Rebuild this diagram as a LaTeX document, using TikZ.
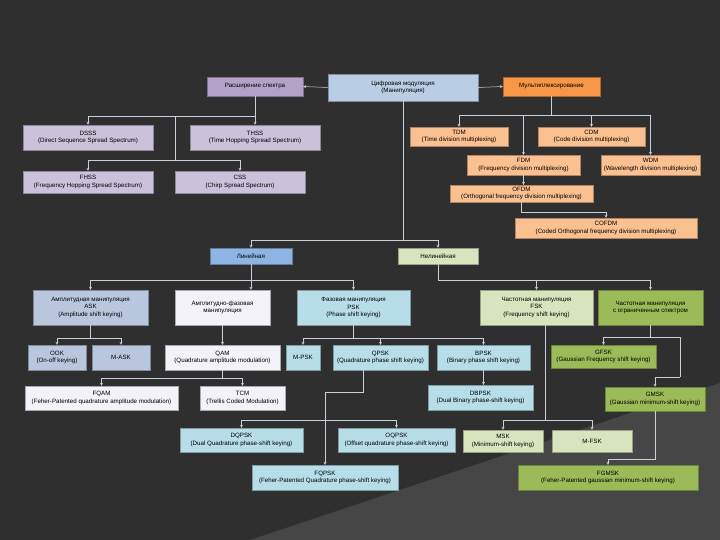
\documentclass[tikz,border=0pt]{standalone}
\usepackage{fontspec}
\setmainfont{Liberation Sans}
\usetikzlibrary{arrows.meta}
\definecolor{bgdark}{HTML}{2F2F2F}
\definecolor{bglight}{HTML}{464646}
\definecolor{lineclr}{HTML}{C8D0DC}
\definecolor{digclr}{HTML}{B9CDE5}
\definecolor{sprclr}{HTML}{B3A2C7}
\definecolor{muxclr}{HTML}{F79646}
\definecolor{sprsub}{HTML}{CCC1DA}
\definecolor{muxsub}{HTML}{FAC090}
\definecolor{linclr}{HTML}{8EB4E3}
\definecolor{nlinclr}{HTML}{D7E4BD}
\definecolor{askclr}{HTML}{B9C7DE}
\definecolor{apmclr}{HTML}{F2F2F8}
\definecolor{pskclr}{HTML}{B7DDE8}
\definecolor{fskclr}{HTML}{D7E4BD}
\definecolor{gfskclr}{HTML}{9BBB59}

\begin{document}
\begin{tikzpicture}[x=1pt,y=-1pt,
    cell/.style={draw=#1!70!black, fill=#1, line width=0.4pt, inner sep=0.5pt,
      align=center, text=black, font=\fontsize{6.2}{7.3}\selectfont},
    conn/.style={draw=lineclr, line width=0.5pt, -{Stealth[open,length=3pt,width=3pt]}},
    wire/.style={draw=lineclr, line width=0.5pt}]
        % Background
        \useasboundingbox (0,0) rectangle (720,540);
        \fill[bgdark] (0,0) rectangle (720,540);
        \fill[bglight] (250,540) -- (720,383) -- (720,540) -- cycle;

        % Top row
        \node[cell=digclr, minimum width=150pt, minimum height=27pt] (dig) at (403,87.5) {Цифровая модуляция\\(Манипуляция)};
        \node[cell=sprclr, minimum width=96pt, minimum height=19pt] (spread) at (255,86.5) {Расширение спектра};
        \node[cell=muxclr, minimum width=97pt, minimum height=19pt] (mux) at (551.5,86.5) {Мультиплексирование};

        % Spread spectrum
        \node[cell=sprsub, minimum width=130pt, minimum height=25pt] (dsss) at (88,137.5) {DSSS\\(Direct Sequence Spread Spectrum)};
        \node[cell=sprsub, minimum width=130pt, minimum height=25pt] (thss) at (255,137.5) {THSS\\(Time Hopping Spread Spectrum)};
        \node[cell=sprsub, minimum width=130pt, minimum height=22pt] (fhss) at (88,182) {FHSS\\(Frequency Hopping Spread Spectrum)};
        \node[cell=sprsub, minimum width=130pt, minimum height=22pt] (css) at (240,182) {CSS\\(Chirp Spread Spectrum)};

        % Multiplexing
        \node[cell=muxsub, minimum width=98pt, minimum height=19pt] (tdm) at (459,136.5) {TDM\\(Time division multiplexing)};
        \node[cell=muxsub, minimum width=107pt, minimum height=19pt] (cdm) at (591.5,136.5) {CDM\\(Code division multiplexing)};
        \node[cell=muxsub, minimum width=113pt, minimum height=20pt] (fdm) at (523.5,165) {FDM\\(Frequency division multiplexing)};
        \node[cell=muxsub, minimum width=99pt, minimum height=20pt] (wdm) at (650.5,165) {WDM\\(Wavelength division multiplexing)};
        \node[cell=muxsub, minimum width=143pt, minimum height=17pt] (ofdm) at (521.5,193.5) {OFDM\\(Orthogonal frequency division multiplexing)};
        \node[cell=muxsub, minimum width=182pt, minimum height=20pt] (cofdm) at (606,228) {COFDM\\(Coded Orthogonal frequency division multiplexing)};

        % Linear / nonlinear
        \node[cell=linclr, minimum width=82pt, minimum height=16pt] (lin) at (251,256) {Линейная};
        \node[cell=nlinclr, minimum width=80pt, minimum height=16pt] (nonlin) at (438,256) {Нелинейная};

        % Keying families
        \node[cell=askclr, minimum width=115pt, minimum height=35pt] (ask) at (90.5,307.5) {Амплитудная манипуляция\\ASK\\(Amplitude shift keying)};
        \node[cell=apmclr, minimum width=95pt, minimum height=35pt] (apm) at (222.5,307.5) {Амплитудно-фазовая\\манипуляция};
        \node[cell=pskclr, minimum width=113pt, minimum height=35pt] (psk) at (353.5,307.5) {Фазовая манипуляция\\PSK\\(Phase shift keying)};
        \node[cell=fskclr, minimum width=113pt, minimum height=35pt] (fsk) at (536.5,307.5) {Частотная манипуляция\\FSK\\(Frequency shift keying)};
        \node[cell=gfskclr, minimum width=105pt, minimum height=35pt] (fskl) at (650.5,307.5) {Частотная манипуляция\\с ограниченным спектром};

        % Row of methods
        \node[cell=askclr, minimum width=58pt, minimum height=25pt] (ook) at (57,357.5) {OOK\\(On-off keying)};
        \node[cell=askclr, minimum width=58pt, minimum height=25pt] (mask) at (121,357.5) {M-ASK};
        \node[cell=apmclr, minimum width=115pt, minimum height=25pt] (qam) at (222.5,357.5) {QAM\\(Quadrature amplitude modulation)};
        \node[cell=pskclr, minimum width=34pt, minimum height=25pt] (mpsk) at (303,357.5) {M-PSK};
        \node[cell=pskclr, minimum width=95pt, minimum height=25pt] (qpsk) at (380.5,357.5) {QPSK\\(Quadrature phase shift keying)};
        \node[cell=pskclr, minimum width=93pt, minimum height=25pt] (bpsk) at (483.5,357.5) {BPSK\\(Binary phase shift keying)};
        \node[cell=gfskclr, minimum width=105pt, minimum height=23pt] (gfsk) at (603.5,356.5) {GFSK\\(Gaussian Frequency shift keying)};

        \node[cell=apmclr, minimum width=153pt, minimum height=24pt] (fqam) at (101.5,398) {FQAM\\(Feher-Patented quadrature amplitude modulation)};
        \node[cell=apmclr, minimum width=85pt, minimum height=24pt] (tcm) at (242.5,398) {TCM\\(Trellis Coded Modulation)};
        \node[cell=pskclr, minimum width=105pt, minimum height=25pt] (dbpsk) at (480.5,397.5) {DBPSK\\(Dual Binary phase-shift keying)};
        \node[cell=gfskclr, minimum width=100pt, minimum height=24pt] (gmsk) at (655,399) {GMSK\\(Gaussian minimum-shift keying)};

        \node[cell=pskclr, minimum width=123pt, minimum height=24pt] (dqpsk) at (241.5,440) {DQPSK\\(Dual Quadrature phase-shift keying)};
        \node[cell=pskclr, minimum width=117pt, minimum height=24pt] (oqpsk) at (396.5,440) {OQPSK\\(Offset quadrature phase-shift keying)};
        \node[cell=fskclr, minimum width=80pt, minimum height=22pt] (msk) at (503,441) {MSK\\(Minimum-shift keying)};
        \node[cell=fskclr, minimum width=80pt, minimum height=22pt] (mfsk) at (592,441) {M-FSK};

        \node[cell=pskclr, minimum width=146pt, minimum height=25pt] (fqpsk) at (325,477.5) {FQPSK\\(Feher-Patented Quadrature phase-shift keying)};
        \node[cell=gfskclr, minimum width=180pt, minimum height=25pt] (fgmsk) at (608,477.5) {FGMSK\\(Feher-Patented gaussian minimum-shift keying)};

        % Top connectors
        \draw[conn] (dig.west) -- (spread.east);
        \draw[conn] (dig.east) -- (mux.west);

        % Spread spectrum connectors
        \coordinate (sj) at (255,116);
        \coordinate (sk) at (175,160);
        \draw[conn] (spread.south) -- (thss.north);
        \draw[conn] (sj) -| (dsss.north);
        \draw[wire] (sj -| sk) -- (sk);
        \draw[conn] (sk) -| (fhss.north);
        \draw[conn] (sk) -| (css.north);

        % Multiplexing connectors
        \coordinate (mj) at (551.5,115);
        \draw[wire] (mux.south) -- (mj);
        \draw[wire] (mj -| tdm.north) -- (mj -| wdm.north);
        \draw[conn] (mj -| tdm.north) -- (tdm.north);
        \draw[conn] (mj -| cdm.north) -- (cdm.north);
        \draw[conn] (mj -| fdm.north) -- (fdm.north);
        \draw[conn] (mj -| wdm.north) -- (wdm.north);
        \draw[conn] (fdm.south) -- (fdm.south |- ofdm.north);
        \draw[conn] (ofdm.south) -- ++(0,10) -| (cofdm.north);

        % Linear / nonlinear connectors
        \coordinate (dj) at (403,240);
        \draw[wire] (dig.south) -- (dj);
        \draw[conn] (dj) -| (lin.north);
        \draw[conn] (dj) -| (nonlin.north);

        \coordinate (lj) at (251,280);
        \draw[conn] (lin.south) -- (lin.south |- apm.north);
        \draw[conn] (lj) -| (ask.north);
        \draw[conn] (lj) -| (psk.north);

        \coordinate (nj) at (438,280);
        \draw[wire] (nonlin.south) -- (nj);
        \draw[conn] (nj) -| (fsk.north);
        \draw[conn] (nj) -| (fskl.north);

        % ASK / QAM connectors
        \coordinate (aj) at (90.5,338);
        \draw[wire] (ask.south) -- (aj);
        \draw[conn] (aj) -| (ook.north);
        \draw[conn] (aj) -| (mask.north);

        \draw[conn] (apm.south) -- (qam.north);
        \coordinate (qj) at (222.5,378);
        \draw[wire] (qam.south) -- (qj);
        \draw[conn] (qj) -| (fqam.north);
        \draw[conn] (qj) -| (tcm.north);

        % PSK connectors
        \coordinate (pj) at (353.5,338);
        \draw[wire] (psk.south) -- (pj);
        \draw[conn] (pj) -| (mpsk.north);
        \draw[conn] (pj) -| (qpsk.north);
        \draw[conn] (pj) -| (bpsk.north);
        \draw[conn] (bpsk.south) -- (bpsk.south |- dbpsk.north);

        \coordinate (qa) at (363,392);
        \coordinate (qb) at (325,420);
        \draw[wire] (qpsk.south -| qa) -- (qa) -- (qa -| qb);
        \draw[conn] (qa -| qb) -- (fqpsk.north);
        \draw[conn] (qb) -| (dqpsk.north);
        \draw[conn] (qb) -| (oqpsk.north);

        % FSK connectors
        \coordinate (fj) at (545,420);
        \draw[wire] (fsk.south -| fj) -- (fj);
        \draw[conn] (fj) -| (msk.north);
        \draw[conn] (fj) -| (mfsk.north);

        \coordinate (gj) at (650.5,337);
        \coordinate (gk) at (680,377);
        \draw[wire] (fskl.south) -- (gj);
        \draw[conn] (gj) -| (gfsk.north);
        \draw[wire] (gj) -| (gk);
        \draw[conn] (gk) -| (gmsk.north);
        \draw[conn] (gmsk.south) -- ++(0,48) -| (fgmsk.north);
    \end{tikzpicture}
\end{document}
